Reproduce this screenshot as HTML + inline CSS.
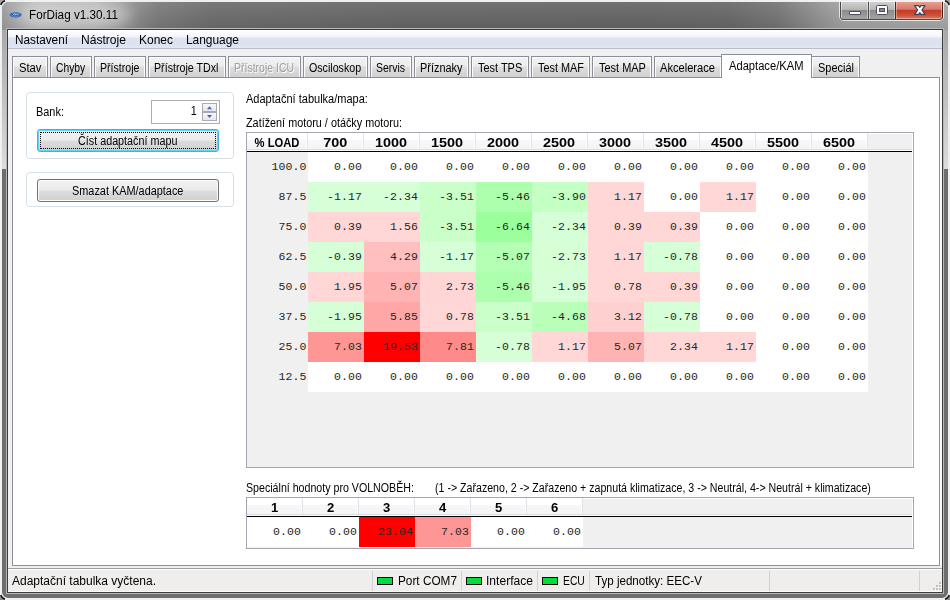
<!DOCTYPE html><html><head><meta charset="utf-8"><title>ForDiag v1.30.11</title><style>
*{box-sizing:border-box;margin:0;padding:0}
html,body{width:950px;height:600px;overflow:hidden;background:#f0f0f0}
body{position:relative;font-family:"Liberation Sans",sans-serif;color:#000}
.tx{position:absolute;white-space:nowrap;overflow:visible}
.tx span{display:inline-block;white-space:nowrap}
.ms{font-size:12px}
.msb{font-size:13.5px;font-weight:bold}
.ui{font-size:12.3px}
.mono{font-family:"Liberation Mono",monospace;font-size:11.5px;letter-spacing:.1px;color:#262626}
.tab{position:absolute;border:1px solid #8b8e98;border-bottom:none;background:linear-gradient(#f3f3f3 0,#ececec 45%,#dedede 50%,#d0d0d0 100%);box-shadow:inset 1px 1px 0 #fcfcfc,inset -1px 0 0 #fcfcfc}
</style></head><body>
<div style="position:absolute;left:2px;top:2px;width:946px;height:596px;border-radius:7px 7px 6px 6px;background:#6e6e6e;overflow:hidden"><div style="position:absolute;left:0;top:0;width:946px;height:167px;background:linear-gradient(#a0a0a0 0,#a8a8a8 26px,#c2c2c2 100px,#dcdcdc 167px)"></div><div style="position:absolute;left:0;top:0;width:946px;height:28px;background:linear-gradient(90deg,#9e9e9e 0,#bababa 40px,#b2b2b2 95px,#929292 125px,#7a7a7a 155px,#6c6c6c 210px,#666 400px,#656565 640px,#676767 725px,#747474 775px,#909090 815px,#a4a4a4 842px,#a8a8a8 946px)"></div><div style="position:absolute;left:0;top:0;width:946px;height:28px;background:linear-gradient(rgba(255,255,255,.08),rgba(0,0,0,.08))"></div></div>
<svg style="position:absolute;left:0px;top:0px" width="8" height="8"><g transform="rotate(0 4 4)"><path d="M0 0 H5.2 A6.6 6.6 0 0 0 0 5.2 Z" fill="#a4a4a4"/><path d="M2.0 5.9 A5.2 5.2 0 0 1 5.9 2.0" stroke="#ececec" stroke-width="1" fill="none"/><path d="M0.8 5.0 A6.2 6.2 0 0 1 5.0 0.8" stroke="#101010" stroke-width="1.5" fill="none"/></g></svg>
<svg style="position:absolute;left:942px;top:0px" width="8" height="8"><g transform="rotate(90 4 4)"><path d="M0 0 H5.2 A6.6 6.6 0 0 0 0 5.2 Z" fill="#a4a4a4"/><path d="M2.0 5.9 A5.2 5.2 0 0 1 5.9 2.0" stroke="#ececec" stroke-width="1" fill="none"/><path d="M0.8 5.0 A6.2 6.2 0 0 1 5.0 0.8" stroke="#101010" stroke-width="1.5" fill="none"/></g></svg>
<svg style="position:absolute;left:942px;top:592px" width="8" height="8"><g transform="rotate(180 4 4)"><path d="M0 0 H5.2 A6.6 6.6 0 0 0 0 5.2 Z" fill="#8c8c8c"/><path d="M2.0 5.9 A5.2 5.2 0 0 1 5.9 2.0" stroke="#ececec" stroke-width="1" fill="none"/><path d="M0.8 5.0 A6.2 6.2 0 0 1 5.0 0.8" stroke="#101010" stroke-width="1.5" fill="none"/></g></svg>
<svg style="position:absolute;left:0px;top:592px" width="8" height="8"><g transform="rotate(270 4 4)"><path d="M0 0 H5.2 A6.6 6.6 0 0 0 0 5.2 Z" fill="#8c8c8c"/><path d="M2.0 5.9 A5.2 5.2 0 0 1 5.9 2.0" stroke="#ececec" stroke-width="1" fill="none"/><path d="M0.8 5.0 A6.2 6.2 0 0 1 5.0 0.8" stroke="#101010" stroke-width="1.5" fill="none"/></g></svg>
<div style="position:absolute;left:18px;top:5px;width:112px;height:20px;border-radius:10px;background:rgba(255,255,255,.38);filter:blur(7px)"></div>
<div style="position:absolute;left:6px;top:28px;width:938px;height:566px;border:1px solid #b8b8b8"></div>
<div style="position:absolute;left:7px;top:29px;width:936px;height:564px;border:1px solid #3c3c3c;background:#f0f0f0"></div>
<svg style="position:absolute;left:9px;top:11px" width="14" height="8" viewBox="0 0 14 8"><ellipse cx="6.7" cy="3.8" rx="5.9" ry="2.6" fill="#1a56b2"/><ellipse cx="6.7" cy="3.8" rx="4.9" ry="1.9" fill="none" stroke="#7fa8e0" stroke-width=".5"/><path d="M3.5 4.6 L5 2.9 L7 3.1 M5.5 4.6 L7 3.4 L8.6 3.2 M8.5 4.6 L9.6 2.8" stroke="#dfe9f8" stroke-width=".7" fill="none"/></svg>
<div class="tx ui" style="left:29px;top:6px;width:100px;height:18px;line-height:18px;text-align:left;"><span style="transform:scaleX(0.9522);transform-origin:0 50%">ForDiag v1.30.11</span></div>
<div style="position:absolute;left:839px;top:0;width:105px;height:21px;border:1px solid rgba(255,255,255,.75);border-top:none;border-radius:0 0 5px 5px"></div>
<div style="position:absolute;left:840px;top:1px;width:103px;height:19px;border:1px solid #4a4a4a;border-right-color:#4a2018;border-top:none;border-radius:0 0 4px 4px;overflow:hidden;background:#999">
 <div style="position:absolute;left:0;top:0;width:27px;height:18px;background:linear-gradient(#d2d2d2 0,#b6b6b6 48%,#8a8a8a 52%,#a4a4a4 100%);box-shadow:inset 1px 0 0 rgba(255,255,255,.5),inset -1px 0 0 rgba(255,255,255,.4)"></div>
 <div style="position:absolute;left:27px;top:0;width:1px;height:18px;background:#505050"></div>
 <div style="position:absolute;left:28px;top:0;width:26px;height:18px;background:linear-gradient(#d2d2d2 0,#b6b6b6 48%,#8a8a8a 52%,#a4a4a4 100%);box-shadow:inset 1px 0 0 rgba(255,255,255,.5),inset -1px 0 0 rgba(255,255,255,.4)"></div>
 <div style="position:absolute;left:54px;top:0;width:1px;height:18px;background:#5a2018"></div>
 <div style="position:absolute;left:55px;top:0;width:46px;height:18px;background:linear-gradient(#eaa294 0,#d37a6a 46%,#c53a24 52%,#cf5238 80%,#d9826c 100%);box-shadow:inset 1px 0 0 rgba(255,255,255,.35),inset -1px 0 0 rgba(255,255,255,.35),inset 0 -1px 0 rgba(255,255,255,.3)"></div>
</div>
<div style="position:absolute;left:840px;top:1px;width:103px;height:1px;background:rgba(255,255,255,.8)"></div>

<svg style="position:absolute;left:848px;top:10px" width="14" height="6"><rect x="1.5" y="1.5" width="11" height="3" rx="0.4" fill="#fff" stroke="#4a4e5e" stroke-width="1"/></svg>
<svg style="position:absolute;left:875px;top:4px" width="14" height="12"><rect x="1.5" y="1.5" width="11" height="9" rx="1.2" fill="#fff" stroke="#4a4e5e" stroke-width="1"/><rect x="4.5" y="4.5" width="5" height="3" fill="#8a8a8a" stroke="#4a4e5e" stroke-width="1"/></svg>
<svg style="position:absolute;left:913px;top:4px" width="14" height="12" viewBox="0 0 14 12"><path d="M1.6 1.6 H5.7 L6.8 3.3 L7.9 1.6 H12 L8.9 6 L12 10.4 H7.9 L6.8 8.7 L5.7 10.4 H1.6 L4.7 6 Z" fill="#fff" stroke="#3e4458" stroke-width="1.2" stroke-linejoin="round"/></svg>
<div style="position:absolute;left:8px;top:30px;width:934px;height:19px;background:linear-gradient(#fff 0,#f4f5fb 36%,#dfe3f1 42%,#dce1f0 70%,#e3e7f4 100%)"></div>
<div style="position:absolute;left:8px;top:48px;width:934px;height:1px;background:#b9bdcc"></div>
<div class="tx ui" style="left:15px;top:31px;width:52px;height:18px;line-height:18px;text-align:left;"><span style="transform:scaleX(0.9565);transform-origin:0 50%">Nastavení</span></div>
<div class="tx ui" style="left:81px;top:31px;width:44px;height:18px;line-height:18px;text-align:left;"><span style="transform:scaleX(0.9824);transform-origin:0 50%">Nástroje</span></div>
<div class="tx ui" style="left:139px;top:31px;width:33px;height:18px;line-height:18px;text-align:left;"><span style="transform:scaleX(0.9744);transform-origin:0 50%">Konec</span></div>
<div class="tx ui" style="left:186px;top:31px;width:52px;height:18px;line-height:18px;text-align:left;"><span style="transform:scaleX(0.9681);transform-origin:0 50%">Language</span></div>
<div style="position:absolute;left:12px;top:77px;width:928px;height:489px;border:1px solid #8b8e98;background:#fff"></div>
<div style="position:absolute;left:940px;top:77px;width:2px;height:489px;background:#fcfcfc"></div>
<div class="tab" style="left:12px;top:56px;width:36px;height:21px"></div>
<div class="tx ms" style="left:19.0px;top:61px;width:21.5px;height:14px;line-height:14px;text-align:left;"><span style="transform:scaleX(0.9343);transform-origin:0 50%">Stav</span></div>
<div class="tab" style="left:50px;top:56px;width:42px;height:21px"></div>
<div class="tx ms" style="left:56.2px;top:61px;width:28.299999999999997px;height:14px;line-height:14px;text-align:left;"><span style="transform:scaleX(0.8572);transform-origin:0 50%">Chyby</span></div>
<div class="tab" style="left:94px;top:56px;width:52px;height:21px"></div>
<div class="tx ms" style="left:100.0px;top:61px;width:38.5px;height:14px;line-height:14px;text-align:left;"><span style="transform:scaleX(0.8815);transform-origin:0 50%">Přístroje</span></div>
<div class="tab" style="left:148px;top:56px;width:78px;height:21px"></div>
<div class="tx ms" style="left:154.3px;top:61px;width:63.69999999999999px;height:14px;line-height:14px;text-align:left;"><span style="transform:scaleX(0.8887);transform-origin:0 50%">Přístroje TDxl</span></div>
<div class="tab" style="left:228px;top:56px;width:73px;height:21px"></div>
<div class="tx ms" style="left:234.3px;top:61px;width:59.19999999999999px;height:14px;line-height:14px;text-align:left;color:#a0a0a0;text-shadow:1px 1px 0 #fff;"><span style="transform:scaleX(0.8747);transform-origin:0 50%">Přístroje ICU</span></div>
<div class="tab" style="left:303px;top:56px;width:65px;height:21px"></div>
<div class="tx ms" style="left:309.3px;top:61px;width:51.19999999999999px;height:14px;line-height:14px;text-align:left;"><span style="transform:scaleX(0.8875);transform-origin:0 50%">Osciloskop</span></div>
<div class="tab" style="left:370px;top:56px;width:42px;height:21px"></div>
<div class="tx ms" style="left:376.3px;top:61px;width:28.19999999999999px;height:14px;line-height:14px;text-align:left;"><span style="transform:scaleX(0.8720);transform-origin:0 50%">Servis</span></div>
<div class="tab" style="left:414px;top:56px;width:55px;height:21px"></div>
<div class="tx ms" style="left:420.0px;top:61px;width:41.5px;height:14px;line-height:14px;text-align:left;"><span style="transform:scaleX(0.9085);transform-origin:0 50%">Příznaky</span></div>
<div class="tab" style="left:471px;top:56px;width:58px;height:21px"></div>
<div class="tx ms" style="left:477.5px;top:61px;width:43.5px;height:14px;line-height:14px;text-align:left;"><span style="transform:scaleX(0.9123);transform-origin:0 50%">Test TPS</span></div>
<div class="tab" style="left:531px;top:56px;width:59px;height:21px"></div>
<div class="tx ms" style="left:537.5px;top:61px;width:45px;height:14px;line-height:14px;text-align:left;"><span style="transform:scaleX(0.9059);transform-origin:0 50%">Test MAF</span></div>
<div class="tab" style="left:592px;top:56px;width:60px;height:21px"></div>
<div class="tx ms" style="left:598.5px;top:61px;width:46px;height:14px;line-height:14px;text-align:left;"><span style="transform:scaleX(0.9137);transform-origin:0 50%">Test MAP</span></div>
<div class="tab" style="left:654px;top:56px;width:68px;height:21px"></div>
<div class="tx ms" style="left:659.5px;top:61px;width:54px;height:14px;line-height:14px;text-align:left;"><span style="transform:scaleX(0.9253);transform-origin:0 50%">Akcelerace</span></div>
<div class="tab" style="left:811px;top:56px;width:49px;height:21px"></div>
<div class="tx ms" style="left:818.0px;top:61px;width:35.0px;height:14px;line-height:14px;text-align:left;"><span style="transform:scaleX(0.9125);transform-origin:0 50%">Speciál</span></div>
<div style="position:absolute;left:721px;top:54px;width:91px;height:24px;border:1px solid #8b8e98;border-bottom:none;background:#fff"></div>
<div class="tx ms" style="left:728.5px;top:59px;width:73.5px;height:14px;line-height:14px;text-align:left;"><span style="transform:scaleX(0.9299);transform-origin:0 50%">Adaptace/KAM</span></div>
<div style="position:absolute;left:26px;top:92px;width:208px;height:67px;border:1px solid #d5dfe5;border-radius:4px"></div>
<div style="position:absolute;left:26px;top:172px;width:208px;height:35px;border:1px solid #d5dfe5;border-radius:4px"></div>
<div class="tx ms" style="left:36.0px;top:105px;width:27px;height:14px;line-height:14px;text-align:left;"><span style="transform:scaleX(0.9095);transform-origin:0 50%">Bank:</span></div>
<div style="position:absolute;left:151px;top:100px;width:69px;height:24px;border:1px solid #abadb3;background:#fff"></div>
<div class="tx ms" style="left:181.0px;top:104px;width:16px;height:14px;line-height:14px;text-align:right;"><span style="transform:scaleX(0.9000);transform-origin:100% 50%">1</span></div>
<div style="position:absolute;left:202px;top:103px;width:15px;height:9px;border:1px solid #a8aab4;background:linear-gradient(#f8f8f8,#e8e8e8)"></div>
<div style="position:absolute;left:202px;top:112px;width:15px;height:9px;border:1px solid #a8aab4;background:linear-gradient(#f8f8f8,#e8e8e8)"></div>
<svg style="position:absolute;left:206px;top:105px" width="8" height="5"><path d="M1 4.3 L3.5 1.2 L6 4.3 Z" fill="#4a5ec6"/></svg>
<svg style="position:absolute;left:206px;top:114px" width="8" height="5"><path d="M1 1 L3.5 4.1 L6 1 Z" fill="#4a5ec6"/></svg>
<div style="position:absolute;left:37px;top:129px;width:182px;height:23px;border:1px solid #3eb1e6;border-radius:3px;background:linear-gradient(#f2f2f2 0,#ebebeb 48%,#dddddd 52%,#cfcfcf 100%);box-shadow:inset 0 0 0 1px #5fd4f7"><div style="position:absolute;left:2px;top:2px;right:2px;bottom:2px;border:1px dotted #000"></div></div>
<div class="tx ms" style="left:77.5px;top:134px;width:98.5px;height:14px;line-height:14px;text-align:left;"><span style="transform:scaleX(0.8977);transform-origin:0 50%">Číst adaptační mapu</span></div>
<div style="position:absolute;left:37px;top:179px;width:182px;height:23px;border:1px solid #707070;border-radius:3px;background:linear-gradient(#f2f2f2 0,#ebebeb 48%,#dddddd 52%,#cfcfcf 100%);box-shadow:inset 0 0 0 1px #fcfcfc"></div>
<div class="tx ms" style="left:72.0px;top:184px;width:110.5px;height:14px;line-height:14px;text-align:left;"><span style="transform:scaleX(0.9077);transform-origin:0 50%">Smazat KAM/adaptace</span></div>
<div class="tx ms" style="left:245.5px;top:92px;width:121px;height:14px;line-height:14px;text-align:left;"><span style="transform:scaleX(0.9184);transform-origin:0 50%">Adaptační tabulka/mapa:</span></div>
<div class="tx ms" style="left:245.5px;top:116px;width:155px;height:14px;line-height:14px;text-align:left;"><span style="transform:scaleX(0.9026);transform-origin:0 50%">Zatížení motoru / otáčky motoru:</span></div>
<div class="tx ms" style="left:246.0px;top:481px;width:167px;height:14px;line-height:14px;text-align:left;"><span style="transform:scaleX(0.8863);transform-origin:0 50%">Speciální hodnoty pro VOLNOBĚH:</span></div>
<div class="tx ms" style="left:434.5px;top:481px;width:435px;height:14px;line-height:14px;text-align:left;"><span style="transform:scaleX(0.8843);transform-origin:0 50%">(1 -&gt; Zařazeno, 2 -&gt; Zařazeno + zapnutá klimatizace, 3 -&gt; Neutrál, 4-&gt; Neutrál + klimatizace)</span></div>
<div style="position:absolute;left:246px;top:132px;width:668px;height:336px;border:1px solid #a5a7b0;background:#f0f0f0"></div>
<div style="position:absolute;left:247px;top:133px;width:666px;height:334px;border:1px solid #fff;border-bottom:none;border-left:none"></div>
<div style="position:absolute;left:247px;top:133px;width:61px;height:17px;background:linear-gradient(#fff 0,#fff 40%,#f6f7f9 41%,#f3f4f6 100%)"></div>
<div style="position:absolute;left:307px;top:133px;width:1px;height:16px;background:#e2e3e8"></div>
<div style="position:absolute;left:306px;top:133px;width:1px;height:16px;background:#fdfdfd"></div>
<div class="tx msb" style="left:247px;top:135px;width:60px;height:15px;line-height:15px;text-align:center;"><span style="transform:scaleX(0.8302);transform-origin:50% 50%">% LOAD</span></div>
<div style="position:absolute;left:308px;top:133px;width:56px;height:17px;background:linear-gradient(#fff 0,#fff 40%,#f6f7f9 41%,#f3f4f6 100%)"></div>
<div style="position:absolute;left:363px;top:133px;width:1px;height:16px;background:#e2e3e8"></div>
<div style="position:absolute;left:362px;top:133px;width:1px;height:16px;background:#fdfdfd"></div>
<div class="tx msb" style="left:308px;top:135px;width:55px;height:15px;line-height:15px;text-align:center;"><span style="transform:scaleX(1.0686);transform-origin:50% 50%">700</span></div>
<div style="position:absolute;left:364px;top:133px;width:56px;height:17px;background:linear-gradient(#fff 0,#fff 40%,#f6f7f9 41%,#f3f4f6 100%)"></div>
<div style="position:absolute;left:419px;top:133px;width:1px;height:16px;background:#e2e3e8"></div>
<div style="position:absolute;left:418px;top:133px;width:1px;height:16px;background:#fdfdfd"></div>
<div class="tx msb" style="left:364px;top:135px;width:55px;height:15px;line-height:15px;text-align:center;"><span style="transform:scaleX(1.0678);transform-origin:50% 50%">1000</span></div>
<div style="position:absolute;left:420px;top:133px;width:56px;height:17px;background:linear-gradient(#fff 0,#fff 40%,#f6f7f9 41%,#f3f4f6 100%)"></div>
<div style="position:absolute;left:475px;top:133px;width:1px;height:16px;background:#e2e3e8"></div>
<div style="position:absolute;left:474px;top:133px;width:1px;height:16px;background:#fdfdfd"></div>
<div class="tx msb" style="left:420px;top:135px;width:55px;height:15px;line-height:15px;text-align:center;"><span style="transform:scaleX(1.0678);transform-origin:50% 50%">1500</span></div>
<div style="position:absolute;left:476px;top:133px;width:56px;height:17px;background:linear-gradient(#fff 0,#fff 40%,#f6f7f9 41%,#f3f4f6 100%)"></div>
<div style="position:absolute;left:531px;top:133px;width:1px;height:16px;background:#e2e3e8"></div>
<div style="position:absolute;left:530px;top:133px;width:1px;height:16px;background:#fdfdfd"></div>
<div class="tx msb" style="left:476px;top:135px;width:55px;height:15px;line-height:15px;text-align:center;"><span style="transform:scaleX(1.0678);transform-origin:50% 50%">2000</span></div>
<div style="position:absolute;left:532px;top:133px;width:56px;height:17px;background:linear-gradient(#fff 0,#fff 40%,#f6f7f9 41%,#f3f4f6 100%)"></div>
<div style="position:absolute;left:587px;top:133px;width:1px;height:16px;background:#e2e3e8"></div>
<div style="position:absolute;left:586px;top:133px;width:1px;height:16px;background:#fdfdfd"></div>
<div class="tx msb" style="left:532px;top:135px;width:55px;height:15px;line-height:15px;text-align:center;"><span style="transform:scaleX(1.0678);transform-origin:50% 50%">2500</span></div>
<div style="position:absolute;left:588px;top:133px;width:56px;height:17px;background:linear-gradient(#fff 0,#fff 40%,#f6f7f9 41%,#f3f4f6 100%)"></div>
<div style="position:absolute;left:643px;top:133px;width:1px;height:16px;background:#e2e3e8"></div>
<div style="position:absolute;left:642px;top:133px;width:1px;height:16px;background:#fdfdfd"></div>
<div class="tx msb" style="left:588px;top:135px;width:55px;height:15px;line-height:15px;text-align:center;"><span style="transform:scaleX(1.0678);transform-origin:50% 50%">3000</span></div>
<div style="position:absolute;left:644px;top:133px;width:56px;height:17px;background:linear-gradient(#fff 0,#fff 40%,#f6f7f9 41%,#f3f4f6 100%)"></div>
<div style="position:absolute;left:699px;top:133px;width:1px;height:16px;background:#e2e3e8"></div>
<div style="position:absolute;left:698px;top:133px;width:1px;height:16px;background:#fdfdfd"></div>
<div class="tx msb" style="left:644px;top:135px;width:55px;height:15px;line-height:15px;text-align:center;"><span style="transform:scaleX(1.0678);transform-origin:50% 50%">3500</span></div>
<div style="position:absolute;left:700px;top:133px;width:56px;height:17px;background:linear-gradient(#fff 0,#fff 40%,#f6f7f9 41%,#f3f4f6 100%)"></div>
<div style="position:absolute;left:755px;top:133px;width:1px;height:16px;background:#e2e3e8"></div>
<div style="position:absolute;left:754px;top:133px;width:1px;height:16px;background:#fdfdfd"></div>
<div class="tx msb" style="left:700px;top:135px;width:55px;height:15px;line-height:15px;text-align:center;"><span style="transform:scaleX(1.0678);transform-origin:50% 50%">4500</span></div>
<div style="position:absolute;left:756px;top:133px;width:56px;height:17px;background:linear-gradient(#fff 0,#fff 40%,#f6f7f9 41%,#f3f4f6 100%)"></div>
<div style="position:absolute;left:811px;top:133px;width:1px;height:16px;background:#e2e3e8"></div>
<div style="position:absolute;left:810px;top:133px;width:1px;height:16px;background:#fdfdfd"></div>
<div class="tx msb" style="left:756px;top:135px;width:55px;height:15px;line-height:15px;text-align:center;"><span style="transform:scaleX(1.0678);transform-origin:50% 50%">5500</span></div>
<div style="position:absolute;left:812px;top:133px;width:56px;height:17px;background:linear-gradient(#fff 0,#fff 40%,#f6f7f9 41%,#f3f4f6 100%)"></div>
<div style="position:absolute;left:867px;top:133px;width:1px;height:16px;background:#e2e3e8"></div>
<div style="position:absolute;left:866px;top:133px;width:1px;height:16px;background:#fdfdfd"></div>
<div class="tx msb" style="left:812px;top:135px;width:55px;height:15px;line-height:15px;text-align:center;"><span style="transform:scaleX(1.0678);transform-origin:50% 50%">6500</span></div>
<div style="position:absolute;left:247px;top:149px;width:665px;height:1px;background:#dcdde0"></div>
<div style="position:absolute;left:247px;top:150px;width:665px;height:1px;background:#fcfcfc"></div>
<div style="position:absolute;left:247px;top:151px;width:665px;height:1px;background:#000"></div>
<div class="tx mono" style="left:247px;top:158.5px;width:59.5px;height:16px;line-height:16px;text-align:right;"><span style="transform:scaleX(1.0000);transform-origin:100% 50%">100.0</span></div>
<div style="position:absolute;left:308px;top:152px;width:56px;height:30px;background:#ffffff"></div>
<div class="tx mono" style="left:308px;top:158.5px;width:54px;height:16px;line-height:16px;text-align:right;"><span style="transform:scaleX(1.0000);transform-origin:100% 50%">0.00</span></div>
<div style="position:absolute;left:364px;top:152px;width:56px;height:30px;background:#ffffff"></div>
<div class="tx mono" style="left:364px;top:158.5px;width:54px;height:16px;line-height:16px;text-align:right;"><span style="transform:scaleX(1.0000);transform-origin:100% 50%">0.00</span></div>
<div style="position:absolute;left:420px;top:152px;width:56px;height:30px;background:#ffffff"></div>
<div class="tx mono" style="left:420px;top:158.5px;width:54px;height:16px;line-height:16px;text-align:right;"><span style="transform:scaleX(1.0000);transform-origin:100% 50%">0.00</span></div>
<div style="position:absolute;left:476px;top:152px;width:56px;height:30px;background:#ffffff"></div>
<div class="tx mono" style="left:476px;top:158.5px;width:54px;height:16px;line-height:16px;text-align:right;"><span style="transform:scaleX(1.0000);transform-origin:100% 50%">0.00</span></div>
<div style="position:absolute;left:532px;top:152px;width:56px;height:30px;background:#ffffff"></div>
<div class="tx mono" style="left:532px;top:158.5px;width:54px;height:16px;line-height:16px;text-align:right;"><span style="transform:scaleX(1.0000);transform-origin:100% 50%">0.00</span></div>
<div style="position:absolute;left:588px;top:152px;width:56px;height:30px;background:#ffffff"></div>
<div class="tx mono" style="left:588px;top:158.5px;width:54px;height:16px;line-height:16px;text-align:right;"><span style="transform:scaleX(1.0000);transform-origin:100% 50%">0.00</span></div>
<div style="position:absolute;left:644px;top:152px;width:56px;height:30px;background:#ffffff"></div>
<div class="tx mono" style="left:644px;top:158.5px;width:54px;height:16px;line-height:16px;text-align:right;"><span style="transform:scaleX(1.0000);transform-origin:100% 50%">0.00</span></div>
<div style="position:absolute;left:700px;top:152px;width:56px;height:30px;background:#ffffff"></div>
<div class="tx mono" style="left:700px;top:158.5px;width:54px;height:16px;line-height:16px;text-align:right;"><span style="transform:scaleX(1.0000);transform-origin:100% 50%">0.00</span></div>
<div style="position:absolute;left:756px;top:152px;width:56px;height:30px;background:#ffffff"></div>
<div class="tx mono" style="left:756px;top:158.5px;width:54px;height:16px;line-height:16px;text-align:right;"><span style="transform:scaleX(1.0000);transform-origin:100% 50%">0.00</span></div>
<div style="position:absolute;left:812px;top:152px;width:56px;height:30px;background:#ffffff"></div>
<div class="tx mono" style="left:812px;top:158.5px;width:54px;height:16px;line-height:16px;text-align:right;"><span style="transform:scaleX(1.0000);transform-origin:100% 50%">0.00</span></div>
<div class="tx mono" style="left:247px;top:188.5px;width:59.5px;height:16px;line-height:16px;text-align:right;"><span style="transform:scaleX(1.0000);transform-origin:100% 50%">87.5</span></div>
<div style="position:absolute;left:308px;top:182px;width:56px;height:30px;background:#d7ffd7"></div>
<div class="tx mono" style="left:308px;top:188.5px;width:54px;height:16px;line-height:16px;text-align:right;"><span style="transform:scaleX(1.0000);transform-origin:100% 50%">-1.17</span></div>
<div style="position:absolute;left:364px;top:182px;width:56px;height:30px;background:#d7ffd7"></div>
<div class="tx mono" style="left:364px;top:188.5px;width:54px;height:16px;line-height:16px;text-align:right;"><span style="transform:scaleX(1.0000);transform-origin:100% 50%">-2.34</span></div>
<div style="position:absolute;left:420px;top:182px;width:56px;height:30px;background:#caffca"></div>
<div class="tx mono" style="left:420px;top:188.5px;width:54px;height:16px;line-height:16px;text-align:right;"><span style="transform:scaleX(1.0000);transform-origin:100% 50%">-3.51</span></div>
<div style="position:absolute;left:476px;top:182px;width:56px;height:30px;background:#adffad"></div>
<div class="tx mono" style="left:476px;top:188.5px;width:54px;height:16px;line-height:16px;text-align:right;"><span style="transform:scaleX(1.0000);transform-origin:100% 50%">-5.46</span></div>
<div style="position:absolute;left:532px;top:182px;width:56px;height:30px;background:#c4ffc4"></div>
<div class="tx mono" style="left:532px;top:188.5px;width:54px;height:16px;line-height:16px;text-align:right;"><span style="transform:scaleX(1.0000);transform-origin:100% 50%">-3.90</span></div>
<div style="position:absolute;left:588px;top:182px;width:56px;height:30px;background:#ffd7d7"></div>
<div class="tx mono" style="left:588px;top:188.5px;width:54px;height:16px;line-height:16px;text-align:right;"><span style="transform:scaleX(1.0000);transform-origin:100% 50%">1.17</span></div>
<div style="position:absolute;left:644px;top:182px;width:56px;height:30px;background:#ffffff"></div>
<div class="tx mono" style="left:644px;top:188.5px;width:54px;height:16px;line-height:16px;text-align:right;"><span style="transform:scaleX(1.0000);transform-origin:100% 50%">0.00</span></div>
<div style="position:absolute;left:700px;top:182px;width:56px;height:30px;background:#ffd7d7"></div>
<div class="tx mono" style="left:700px;top:188.5px;width:54px;height:16px;line-height:16px;text-align:right;"><span style="transform:scaleX(1.0000);transform-origin:100% 50%">1.17</span></div>
<div style="position:absolute;left:756px;top:182px;width:56px;height:30px;background:#ffffff"></div>
<div class="tx mono" style="left:756px;top:188.5px;width:54px;height:16px;line-height:16px;text-align:right;"><span style="transform:scaleX(1.0000);transform-origin:100% 50%">0.00</span></div>
<div style="position:absolute;left:812px;top:182px;width:56px;height:30px;background:#ffffff"></div>
<div class="tx mono" style="left:812px;top:188.5px;width:54px;height:16px;line-height:16px;text-align:right;"><span style="transform:scaleX(1.0000);transform-origin:100% 50%">0.00</span></div>
<div class="tx mono" style="left:247px;top:218.5px;width:59.5px;height:16px;line-height:16px;text-align:right;"><span style="transform:scaleX(1.0000);transform-origin:100% 50%">75.0</span></div>
<div style="position:absolute;left:308px;top:212px;width:56px;height:30px;background:#ffd7d7"></div>
<div class="tx mono" style="left:308px;top:218.5px;width:54px;height:16px;line-height:16px;text-align:right;"><span style="transform:scaleX(1.0000);transform-origin:100% 50%">0.39</span></div>
<div style="position:absolute;left:364px;top:212px;width:56px;height:30px;background:#ffd7d7"></div>
<div class="tx mono" style="left:364px;top:218.5px;width:54px;height:16px;line-height:16px;text-align:right;"><span style="transform:scaleX(1.0000);transform-origin:100% 50%">1.56</span></div>
<div style="position:absolute;left:420px;top:212px;width:56px;height:30px;background:#caffca"></div>
<div class="tx mono" style="left:420px;top:218.5px;width:54px;height:16px;line-height:16px;text-align:right;"><span style="transform:scaleX(1.0000);transform-origin:100% 50%">-3.51</span></div>
<div style="position:absolute;left:476px;top:212px;width:56px;height:30px;background:#9bff9b"></div>
<div class="tx mono" style="left:476px;top:218.5px;width:54px;height:16px;line-height:16px;text-align:right;"><span style="transform:scaleX(1.0000);transform-origin:100% 50%">-6.64</span></div>
<div style="position:absolute;left:532px;top:212px;width:56px;height:30px;background:#d7ffd7"></div>
<div class="tx mono" style="left:532px;top:218.5px;width:54px;height:16px;line-height:16px;text-align:right;"><span style="transform:scaleX(1.0000);transform-origin:100% 50%">-2.34</span></div>
<div style="position:absolute;left:588px;top:212px;width:56px;height:30px;background:#ffd7d7"></div>
<div class="tx mono" style="left:588px;top:218.5px;width:54px;height:16px;line-height:16px;text-align:right;"><span style="transform:scaleX(1.0000);transform-origin:100% 50%">0.39</span></div>
<div style="position:absolute;left:644px;top:212px;width:56px;height:30px;background:#ffd7d7"></div>
<div class="tx mono" style="left:644px;top:218.5px;width:54px;height:16px;line-height:16px;text-align:right;"><span style="transform:scaleX(1.0000);transform-origin:100% 50%">0.39</span></div>
<div style="position:absolute;left:700px;top:212px;width:56px;height:30px;background:#ffffff"></div>
<div class="tx mono" style="left:700px;top:218.5px;width:54px;height:16px;line-height:16px;text-align:right;"><span style="transform:scaleX(1.0000);transform-origin:100% 50%">0.00</span></div>
<div style="position:absolute;left:756px;top:212px;width:56px;height:30px;background:#ffffff"></div>
<div class="tx mono" style="left:756px;top:218.5px;width:54px;height:16px;line-height:16px;text-align:right;"><span style="transform:scaleX(1.0000);transform-origin:100% 50%">0.00</span></div>
<div style="position:absolute;left:812px;top:212px;width:56px;height:30px;background:#ffffff"></div>
<div class="tx mono" style="left:812px;top:218.5px;width:54px;height:16px;line-height:16px;text-align:right;"><span style="transform:scaleX(1.0000);transform-origin:100% 50%">0.00</span></div>
<div class="tx mono" style="left:247px;top:248.5px;width:59.5px;height:16px;line-height:16px;text-align:right;"><span style="transform:scaleX(1.0000);transform-origin:100% 50%">62.5</span></div>
<div style="position:absolute;left:308px;top:242px;width:56px;height:30px;background:#d7ffd7"></div>
<div class="tx mono" style="left:308px;top:248.5px;width:54px;height:16px;line-height:16px;text-align:right;"><span style="transform:scaleX(1.0000);transform-origin:100% 50%">-0.39</span></div>
<div style="position:absolute;left:364px;top:242px;width:56px;height:30px;background:#ffbfbf"></div>
<div class="tx mono" style="left:364px;top:248.5px;width:54px;height:16px;line-height:16px;text-align:right;"><span style="transform:scaleX(1.0000);transform-origin:100% 50%">4.29</span></div>
<div style="position:absolute;left:420px;top:242px;width:56px;height:30px;background:#d7ffd7"></div>
<div class="tx mono" style="left:420px;top:248.5px;width:54px;height:16px;line-height:16px;text-align:right;"><span style="transform:scaleX(1.0000);transform-origin:100% 50%">-1.17</span></div>
<div style="position:absolute;left:476px;top:242px;width:56px;height:30px;background:#b3ffb3"></div>
<div class="tx mono" style="left:476px;top:248.5px;width:54px;height:16px;line-height:16px;text-align:right;"><span style="transform:scaleX(1.0000);transform-origin:100% 50%">-5.07</span></div>
<div style="position:absolute;left:532px;top:242px;width:56px;height:30px;background:#d6ffd6"></div>
<div class="tx mono" style="left:532px;top:248.5px;width:54px;height:16px;line-height:16px;text-align:right;"><span style="transform:scaleX(1.0000);transform-origin:100% 50%">-2.73</span></div>
<div style="position:absolute;left:588px;top:242px;width:56px;height:30px;background:#ffd7d7"></div>
<div class="tx mono" style="left:588px;top:248.5px;width:54px;height:16px;line-height:16px;text-align:right;"><span style="transform:scaleX(1.0000);transform-origin:100% 50%">1.17</span></div>
<div style="position:absolute;left:644px;top:242px;width:56px;height:30px;background:#d7ffd7"></div>
<div class="tx mono" style="left:644px;top:248.5px;width:54px;height:16px;line-height:16px;text-align:right;"><span style="transform:scaleX(1.0000);transform-origin:100% 50%">-0.78</span></div>
<div style="position:absolute;left:700px;top:242px;width:56px;height:30px;background:#ffffff"></div>
<div class="tx mono" style="left:700px;top:248.5px;width:54px;height:16px;line-height:16px;text-align:right;"><span style="transform:scaleX(1.0000);transform-origin:100% 50%">0.00</span></div>
<div style="position:absolute;left:756px;top:242px;width:56px;height:30px;background:#ffffff"></div>
<div class="tx mono" style="left:756px;top:248.5px;width:54px;height:16px;line-height:16px;text-align:right;"><span style="transform:scaleX(1.0000);transform-origin:100% 50%">0.00</span></div>
<div style="position:absolute;left:812px;top:242px;width:56px;height:30px;background:#ffffff"></div>
<div class="tx mono" style="left:812px;top:248.5px;width:54px;height:16px;line-height:16px;text-align:right;"><span style="transform:scaleX(1.0000);transform-origin:100% 50%">0.00</span></div>
<div class="tx mono" style="left:247px;top:278.5px;width:59.5px;height:16px;line-height:16px;text-align:right;"><span style="transform:scaleX(1.0000);transform-origin:100% 50%">50.0</span></div>
<div style="position:absolute;left:308px;top:272px;width:56px;height:30px;background:#ffd7d7"></div>
<div class="tx mono" style="left:308px;top:278.5px;width:54px;height:16px;line-height:16px;text-align:right;"><span style="transform:scaleX(1.0000);transform-origin:100% 50%">1.95</span></div>
<div style="position:absolute;left:364px;top:272px;width:56px;height:30px;background:#ffb3b3"></div>
<div class="tx mono" style="left:364px;top:278.5px;width:54px;height:16px;line-height:16px;text-align:right;"><span style="transform:scaleX(1.0000);transform-origin:100% 50%">5.07</span></div>
<div style="position:absolute;left:420px;top:272px;width:56px;height:30px;background:#ffd6d6"></div>
<div class="tx mono" style="left:420px;top:278.5px;width:54px;height:16px;line-height:16px;text-align:right;"><span style="transform:scaleX(1.0000);transform-origin:100% 50%">2.73</span></div>
<div style="position:absolute;left:476px;top:272px;width:56px;height:30px;background:#adffad"></div>
<div class="tx mono" style="left:476px;top:278.5px;width:54px;height:16px;line-height:16px;text-align:right;"><span style="transform:scaleX(1.0000);transform-origin:100% 50%">-5.46</span></div>
<div style="position:absolute;left:532px;top:272px;width:56px;height:30px;background:#d7ffd7"></div>
<div class="tx mono" style="left:532px;top:278.5px;width:54px;height:16px;line-height:16px;text-align:right;"><span style="transform:scaleX(1.0000);transform-origin:100% 50%">-1.95</span></div>
<div style="position:absolute;left:588px;top:272px;width:56px;height:30px;background:#ffd7d7"></div>
<div class="tx mono" style="left:588px;top:278.5px;width:54px;height:16px;line-height:16px;text-align:right;"><span style="transform:scaleX(1.0000);transform-origin:100% 50%">0.78</span></div>
<div style="position:absolute;left:644px;top:272px;width:56px;height:30px;background:#ffd7d7"></div>
<div class="tx mono" style="left:644px;top:278.5px;width:54px;height:16px;line-height:16px;text-align:right;"><span style="transform:scaleX(1.0000);transform-origin:100% 50%">0.39</span></div>
<div style="position:absolute;left:700px;top:272px;width:56px;height:30px;background:#ffffff"></div>
<div class="tx mono" style="left:700px;top:278.5px;width:54px;height:16px;line-height:16px;text-align:right;"><span style="transform:scaleX(1.0000);transform-origin:100% 50%">0.00</span></div>
<div style="position:absolute;left:756px;top:272px;width:56px;height:30px;background:#ffffff"></div>
<div class="tx mono" style="left:756px;top:278.5px;width:54px;height:16px;line-height:16px;text-align:right;"><span style="transform:scaleX(1.0000);transform-origin:100% 50%">0.00</span></div>
<div style="position:absolute;left:812px;top:272px;width:56px;height:30px;background:#ffffff"></div>
<div class="tx mono" style="left:812px;top:278.5px;width:54px;height:16px;line-height:16px;text-align:right;"><span style="transform:scaleX(1.0000);transform-origin:100% 50%">0.00</span></div>
<div class="tx mono" style="left:247px;top:308.5px;width:59.5px;height:16px;line-height:16px;text-align:right;"><span style="transform:scaleX(1.0000);transform-origin:100% 50%">37.5</span></div>
<div style="position:absolute;left:308px;top:302px;width:56px;height:30px;background:#d7ffd7"></div>
<div class="tx mono" style="left:308px;top:308.5px;width:54px;height:16px;line-height:16px;text-align:right;"><span style="transform:scaleX(1.0000);transform-origin:100% 50%">-1.95</span></div>
<div style="position:absolute;left:364px;top:302px;width:56px;height:30px;background:#ffa7a7"></div>
<div class="tx mono" style="left:364px;top:308.5px;width:54px;height:16px;line-height:16px;text-align:right;"><span style="transform:scaleX(1.0000);transform-origin:100% 50%">5.85</span></div>
<div style="position:absolute;left:420px;top:302px;width:56px;height:30px;background:#ffd7d7"></div>
<div class="tx mono" style="left:420px;top:308.5px;width:54px;height:16px;line-height:16px;text-align:right;"><span style="transform:scaleX(1.0000);transform-origin:100% 50%">0.78</span></div>
<div style="position:absolute;left:476px;top:302px;width:56px;height:30px;background:#caffca"></div>
<div class="tx mono" style="left:476px;top:308.5px;width:54px;height:16px;line-height:16px;text-align:right;"><span style="transform:scaleX(1.0000);transform-origin:100% 50%">-3.51</span></div>
<div style="position:absolute;left:532px;top:302px;width:56px;height:30px;background:#b9ffb9"></div>
<div class="tx mono" style="left:532px;top:308.5px;width:54px;height:16px;line-height:16px;text-align:right;"><span style="transform:scaleX(1.0000);transform-origin:100% 50%">-4.68</span></div>
<div style="position:absolute;left:588px;top:302px;width:56px;height:30px;background:#ffd0d0"></div>
<div class="tx mono" style="left:588px;top:308.5px;width:54px;height:16px;line-height:16px;text-align:right;"><span style="transform:scaleX(1.0000);transform-origin:100% 50%">3.12</span></div>
<div style="position:absolute;left:644px;top:302px;width:56px;height:30px;background:#d7ffd7"></div>
<div class="tx mono" style="left:644px;top:308.5px;width:54px;height:16px;line-height:16px;text-align:right;"><span style="transform:scaleX(1.0000);transform-origin:100% 50%">-0.78</span></div>
<div style="position:absolute;left:700px;top:302px;width:56px;height:30px;background:#ffffff"></div>
<div class="tx mono" style="left:700px;top:308.5px;width:54px;height:16px;line-height:16px;text-align:right;"><span style="transform:scaleX(1.0000);transform-origin:100% 50%">0.00</span></div>
<div style="position:absolute;left:756px;top:302px;width:56px;height:30px;background:#ffffff"></div>
<div class="tx mono" style="left:756px;top:308.5px;width:54px;height:16px;line-height:16px;text-align:right;"><span style="transform:scaleX(1.0000);transform-origin:100% 50%">0.00</span></div>
<div style="position:absolute;left:812px;top:302px;width:56px;height:30px;background:#ffffff"></div>
<div class="tx mono" style="left:812px;top:308.5px;width:54px;height:16px;line-height:16px;text-align:right;"><span style="transform:scaleX(1.0000);transform-origin:100% 50%">0.00</span></div>
<div class="tx mono" style="left:247px;top:338.5px;width:59.5px;height:16px;line-height:16px;text-align:right;"><span style="transform:scaleX(1.0000);transform-origin:100% 50%">25.0</span></div>
<div style="position:absolute;left:308px;top:332px;width:56px;height:30px;background:#ff9696"></div>
<div class="tx mono" style="left:308px;top:338.5px;width:54px;height:16px;line-height:16px;text-align:right;"><span style="transform:scaleX(1.0000);transform-origin:100% 50%">7.03</span></div>
<div style="position:absolute;left:364px;top:332px;width:56px;height:30px;background:#ff0000"></div>
<div class="tx mono" style="left:364px;top:338.5px;width:54px;height:16px;line-height:16px;text-align:right;"><span style="transform:scaleX(1.0000);transform-origin:100% 50%">19.53</span></div>
<div style="position:absolute;left:420px;top:332px;width:56px;height:30px;background:#ff8a8a"></div>
<div class="tx mono" style="left:420px;top:338.5px;width:54px;height:16px;line-height:16px;text-align:right;"><span style="transform:scaleX(1.0000);transform-origin:100% 50%">7.81</span></div>
<div style="position:absolute;left:476px;top:332px;width:56px;height:30px;background:#d7ffd7"></div>
<div class="tx mono" style="left:476px;top:338.5px;width:54px;height:16px;line-height:16px;text-align:right;"><span style="transform:scaleX(1.0000);transform-origin:100% 50%">-0.78</span></div>
<div style="position:absolute;left:532px;top:332px;width:56px;height:30px;background:#ffd7d7"></div>
<div class="tx mono" style="left:532px;top:338.5px;width:54px;height:16px;line-height:16px;text-align:right;"><span style="transform:scaleX(1.0000);transform-origin:100% 50%">1.17</span></div>
<div style="position:absolute;left:588px;top:332px;width:56px;height:30px;background:#ffb3b3"></div>
<div class="tx mono" style="left:588px;top:338.5px;width:54px;height:16px;line-height:16px;text-align:right;"><span style="transform:scaleX(1.0000);transform-origin:100% 50%">5.07</span></div>
<div style="position:absolute;left:644px;top:332px;width:56px;height:30px;background:#ffd7d7"></div>
<div class="tx mono" style="left:644px;top:338.5px;width:54px;height:16px;line-height:16px;text-align:right;"><span style="transform:scaleX(1.0000);transform-origin:100% 50%">2.34</span></div>
<div style="position:absolute;left:700px;top:332px;width:56px;height:30px;background:#ffd7d7"></div>
<div class="tx mono" style="left:700px;top:338.5px;width:54px;height:16px;line-height:16px;text-align:right;"><span style="transform:scaleX(1.0000);transform-origin:100% 50%">1.17</span></div>
<div style="position:absolute;left:756px;top:332px;width:56px;height:30px;background:#ffffff"></div>
<div class="tx mono" style="left:756px;top:338.5px;width:54px;height:16px;line-height:16px;text-align:right;"><span style="transform:scaleX(1.0000);transform-origin:100% 50%">0.00</span></div>
<div style="position:absolute;left:812px;top:332px;width:56px;height:30px;background:#ffffff"></div>
<div class="tx mono" style="left:812px;top:338.5px;width:54px;height:16px;line-height:16px;text-align:right;"><span style="transform:scaleX(1.0000);transform-origin:100% 50%">0.00</span></div>
<div class="tx mono" style="left:247px;top:368.5px;width:59.5px;height:16px;line-height:16px;text-align:right;"><span style="transform:scaleX(1.0000);transform-origin:100% 50%">12.5</span></div>
<div style="position:absolute;left:308px;top:362px;width:56px;height:30px;background:#ffffff"></div>
<div class="tx mono" style="left:308px;top:368.5px;width:54px;height:16px;line-height:16px;text-align:right;"><span style="transform:scaleX(1.0000);transform-origin:100% 50%">0.00</span></div>
<div style="position:absolute;left:364px;top:362px;width:56px;height:30px;background:#ffffff"></div>
<div class="tx mono" style="left:364px;top:368.5px;width:54px;height:16px;line-height:16px;text-align:right;"><span style="transform:scaleX(1.0000);transform-origin:100% 50%">0.00</span></div>
<div style="position:absolute;left:420px;top:362px;width:56px;height:30px;background:#ffffff"></div>
<div class="tx mono" style="left:420px;top:368.5px;width:54px;height:16px;line-height:16px;text-align:right;"><span style="transform:scaleX(1.0000);transform-origin:100% 50%">0.00</span></div>
<div style="position:absolute;left:476px;top:362px;width:56px;height:30px;background:#ffffff"></div>
<div class="tx mono" style="left:476px;top:368.5px;width:54px;height:16px;line-height:16px;text-align:right;"><span style="transform:scaleX(1.0000);transform-origin:100% 50%">0.00</span></div>
<div style="position:absolute;left:532px;top:362px;width:56px;height:30px;background:#ffffff"></div>
<div class="tx mono" style="left:532px;top:368.5px;width:54px;height:16px;line-height:16px;text-align:right;"><span style="transform:scaleX(1.0000);transform-origin:100% 50%">0.00</span></div>
<div style="position:absolute;left:588px;top:362px;width:56px;height:30px;background:#ffffff"></div>
<div class="tx mono" style="left:588px;top:368.5px;width:54px;height:16px;line-height:16px;text-align:right;"><span style="transform:scaleX(1.0000);transform-origin:100% 50%">0.00</span></div>
<div style="position:absolute;left:644px;top:362px;width:56px;height:30px;background:#ffffff"></div>
<div class="tx mono" style="left:644px;top:368.5px;width:54px;height:16px;line-height:16px;text-align:right;"><span style="transform:scaleX(1.0000);transform-origin:100% 50%">0.00</span></div>
<div style="position:absolute;left:700px;top:362px;width:56px;height:30px;background:#ffffff"></div>
<div class="tx mono" style="left:700px;top:368.5px;width:54px;height:16px;line-height:16px;text-align:right;"><span style="transform:scaleX(1.0000);transform-origin:100% 50%">0.00</span></div>
<div style="position:absolute;left:756px;top:362px;width:56px;height:30px;background:#ffffff"></div>
<div class="tx mono" style="left:756px;top:368.5px;width:54px;height:16px;line-height:16px;text-align:right;"><span style="transform:scaleX(1.0000);transform-origin:100% 50%">0.00</span></div>
<div style="position:absolute;left:812px;top:362px;width:56px;height:30px;background:#ffffff"></div>
<div class="tx mono" style="left:812px;top:368.5px;width:54px;height:16px;line-height:16px;text-align:right;"><span style="transform:scaleX(1.0000);transform-origin:100% 50%">0.00</span></div>
<div style="position:absolute;left:246px;top:497px;width:668px;height:52px;border:1px solid #a5a7b0;background:#f0f0f0"></div>
<div style="position:absolute;left:247px;top:498px;width:666px;height:50px;border:1px solid #fff;border-bottom:none;border-left:none"></div>
<div style="position:absolute;left:247px;top:498px;width:56px;height:17px;background:linear-gradient(#fff 0,#fff 40%,#f6f7f9 41%,#f3f4f6 100%)"></div>
<div style="position:absolute;left:302px;top:498px;width:1px;height:16px;background:#e2e3e8"></div>
<div style="position:absolute;left:301px;top:498px;width:1px;height:16px;background:#fdfdfd"></div>
<div class="tx msb" style="left:247px;top:500px;width:55px;height:15px;line-height:15px;text-align:center;"><span style="transform:scaleX(0.9680);transform-origin:50% 50%">1</span></div>
<div style="position:absolute;left:303px;top:498px;width:56px;height:17px;background:linear-gradient(#fff 0,#fff 40%,#f6f7f9 41%,#f3f4f6 100%)"></div>
<div style="position:absolute;left:358px;top:498px;width:1px;height:16px;background:#e2e3e8"></div>
<div style="position:absolute;left:357px;top:498px;width:1px;height:16px;background:#fdfdfd"></div>
<div class="tx msb" style="left:303px;top:500px;width:55px;height:15px;line-height:15px;text-align:center;"><span style="transform:scaleX(0.9680);transform-origin:50% 50%">2</span></div>
<div style="position:absolute;left:359px;top:498px;width:56px;height:17px;background:linear-gradient(#fff 0,#fff 40%,#f6f7f9 41%,#f3f4f6 100%)"></div>
<div style="position:absolute;left:414px;top:498px;width:1px;height:16px;background:#e2e3e8"></div>
<div style="position:absolute;left:413px;top:498px;width:1px;height:16px;background:#fdfdfd"></div>
<div class="tx msb" style="left:359px;top:500px;width:55px;height:15px;line-height:15px;text-align:center;"><span style="transform:scaleX(0.9680);transform-origin:50% 50%">3</span></div>
<div style="position:absolute;left:415px;top:498px;width:56px;height:17px;background:linear-gradient(#fff 0,#fff 40%,#f6f7f9 41%,#f3f4f6 100%)"></div>
<div style="position:absolute;left:470px;top:498px;width:1px;height:16px;background:#e2e3e8"></div>
<div style="position:absolute;left:469px;top:498px;width:1px;height:16px;background:#fdfdfd"></div>
<div class="tx msb" style="left:415px;top:500px;width:55px;height:15px;line-height:15px;text-align:center;"><span style="transform:scaleX(0.9680);transform-origin:50% 50%">4</span></div>
<div style="position:absolute;left:471px;top:498px;width:56px;height:17px;background:linear-gradient(#fff 0,#fff 40%,#f6f7f9 41%,#f3f4f6 100%)"></div>
<div style="position:absolute;left:526px;top:498px;width:1px;height:16px;background:#e2e3e8"></div>
<div style="position:absolute;left:525px;top:498px;width:1px;height:16px;background:#fdfdfd"></div>
<div class="tx msb" style="left:471px;top:500px;width:55px;height:15px;line-height:15px;text-align:center;"><span style="transform:scaleX(0.9680);transform-origin:50% 50%">5</span></div>
<div style="position:absolute;left:527px;top:498px;width:56px;height:17px;background:linear-gradient(#fff 0,#fff 40%,#f6f7f9 41%,#f3f4f6 100%)"></div>
<div style="position:absolute;left:582px;top:498px;width:1px;height:16px;background:#e2e3e8"></div>
<div style="position:absolute;left:581px;top:498px;width:1px;height:16px;background:#fdfdfd"></div>
<div class="tx msb" style="left:527px;top:500px;width:55px;height:15px;line-height:15px;text-align:center;"><span style="transform:scaleX(0.9680);transform-origin:50% 50%">6</span></div>
<div style="position:absolute;left:247px;top:514px;width:665px;height:1px;background:#dcdde0"></div>
<div style="position:absolute;left:247px;top:515px;width:665px;height:1px;background:#fcfcfc"></div>
<div style="position:absolute;left:247px;top:516px;width:665px;height:1px;background:#000"></div>
<div style="position:absolute;left:247px;top:517px;width:56px;height:30px;background:#ffffff"></div>
<div class="tx mono" style="left:247px;top:523.5px;width:54px;height:16px;line-height:16px;text-align:right;"><span style="transform:scaleX(1.0000);transform-origin:100% 50%">0.00</span></div>
<div style="position:absolute;left:303px;top:517px;width:56px;height:30px;background:#ffffff"></div>
<div class="tx mono" style="left:303px;top:523.5px;width:54px;height:16px;line-height:16px;text-align:right;"><span style="transform:scaleX(1.0000);transform-origin:100% 50%">0.00</span></div>
<div style="position:absolute;left:359px;top:517px;width:56px;height:30px;background:#ff0000"></div>
<div class="tx mono" style="left:359px;top:523.5px;width:54px;height:16px;line-height:16px;text-align:right;"><span style="transform:scaleX(1.0000);transform-origin:100% 50%">23.04</span></div>
<div style="position:absolute;left:415px;top:517px;width:56px;height:30px;background:#ff9696"></div>
<div class="tx mono" style="left:415px;top:523.5px;width:54px;height:16px;line-height:16px;text-align:right;"><span style="transform:scaleX(1.0000);transform-origin:100% 50%">7.03</span></div>
<div style="position:absolute;left:471px;top:517px;width:56px;height:30px;background:#ffffff"></div>
<div class="tx mono" style="left:471px;top:523.5px;width:54px;height:16px;line-height:16px;text-align:right;"><span style="transform:scaleX(1.0000);transform-origin:100% 50%">0.00</span></div>
<div style="position:absolute;left:527px;top:517px;width:56px;height:30px;background:#ffffff"></div>
<div class="tx mono" style="left:527px;top:523.5px;width:54px;height:16px;line-height:16px;text-align:right;"><span style="transform:scaleX(1.0000);transform-origin:100% 50%">0.00</span></div>
<div style="position:absolute;left:8px;top:568px;width:934px;height:1px;background:#a0a0a0"></div>
<div style="position:absolute;left:8px;top:569px;width:934px;height:1px;background:#fff"></div>
<div style="position:absolute;left:8px;top:570px;width:934px;height:22px;background:#f0eded"></div>
<div style="position:absolute;left:8px;top:591px;width:934px;height:1px;background:#fbfafa"></div>
<div style="position:absolute;left:372px;top:571px;width:1px;height:20px;background:#d2d0d0"></div>
<div style="position:absolute;left:461px;top:571px;width:1px;height:20px;background:#d2d0d0"></div>
<div style="position:absolute;left:537px;top:571px;width:1px;height:20px;background:#d2d0d0"></div>
<div style="position:absolute;left:589px;top:571px;width:1px;height:20px;background:#d2d0d0"></div>
<div style="position:absolute;left:769px;top:571px;width:1px;height:20px;background:#d2d0d0"></div>
<div style="position:absolute;left:919px;top:571px;width:1px;height:20px;background:#d2d0d0"></div>
<div class="tx ui" style="left:12px;top:572px;width:143px;height:18px;line-height:18px;text-align:left;"><span style="transform:scaleX(0.9751);transform-origin:0 50%">Adaptační tabulka vyčtena.</span></div>
<div style="position:absolute;left:377px;top:577px;width:16px;height:8px;border:1px solid #0c0c0c;background:#04dc3e"></div>
<div class="tx ui" style="left:397.6px;top:572px;width:58.0px;height:18px;line-height:18px;text-align:left;"><span style="transform:scaleX(0.9587);transform-origin:0 50%">Port COM7</span></div>
<div style="position:absolute;left:466px;top:577px;width:16px;height:8px;border:1px solid #0c0c0c;background:#04dc3e"></div>
<div class="tx ui" style="left:486px;top:572px;width:46px;height:18px;line-height:18px;text-align:left;"><span style="transform:scaleX(0.9819);transform-origin:0 50%">Interface</span></div>
<div style="position:absolute;left:542px;top:577px;width:16px;height:8px;border:1px solid #0c0c0c;background:#04dc3e"></div>
<div class="tx ui" style="left:562.6px;top:572px;width:21.0px;height:18px;line-height:18px;text-align:left;"><span style="transform:scaleX(0.8413);transform-origin:0 50%">ECU</span></div>
<div class="tx ui" style="left:595px;top:572px;width:106px;height:18px;line-height:18px;text-align:left;"><span style="transform:scaleX(0.9426);transform-origin:0 50%">Typ jednotky: EEC-V</span></div>
<div style="position:absolute;left:933px;top:588px;width:2px;height:2px;background:#c2bebe;box-shadow:1px 1px 0 #fff"></div>
<div style="position:absolute;left:936px;top:588px;width:2px;height:2px;background:#c2bebe;box-shadow:1px 1px 0 #fff"></div>
<div style="position:absolute;left:939px;top:588px;width:2px;height:2px;background:#c2bebe;box-shadow:1px 1px 0 #fff"></div>
<div style="position:absolute;left:936px;top:585px;width:2px;height:2px;background:#c2bebe;box-shadow:1px 1px 0 #fff"></div>
<div style="position:absolute;left:939px;top:585px;width:2px;height:2px;background:#c2bebe;box-shadow:1px 1px 0 #fff"></div>
<div style="position:absolute;left:939px;top:582px;width:2px;height:2px;background:#c2bebe;box-shadow:1px 1px 0 #fff"></div>
</body></html>
